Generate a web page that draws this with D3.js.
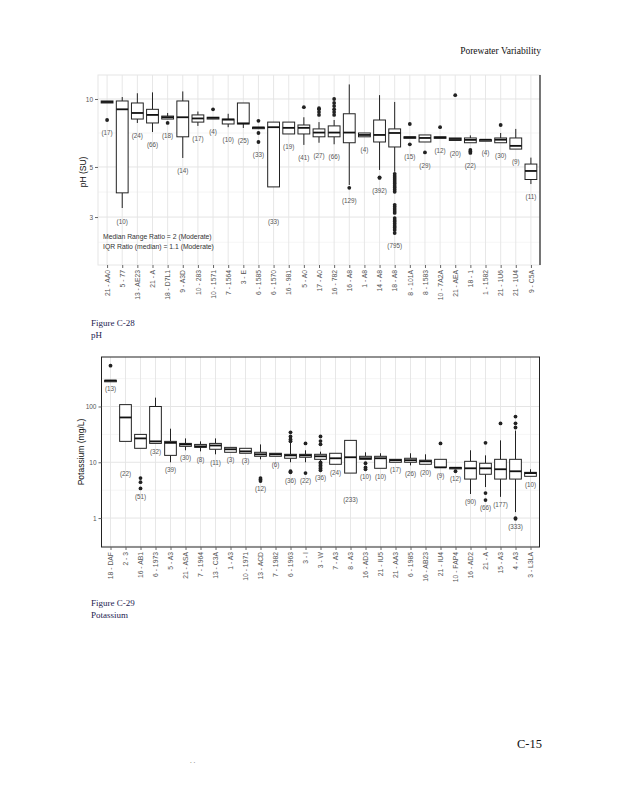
<!DOCTYPE html>
<html><head><meta charset="utf-8">
<script src="https://cdn.jsdelivr.net/npm/d3@7"></script>
<style>body{margin:0;background:#fff}</style>
</head><body>
<svg id="c" width="618" height="800"></svg>
<script>
// ---------- pH (Figure C-28) ----------
const phCategories = ["21 - AA0","5 - 77","13 - AE23","21 - A","18 - D7L1","9 - A3D","10 - 283","10 - 1571","7 - 1564","3 - E","6 - 1585","6 - 1570","16 - 981","5 - A0","17 - A0","16 - 782","16 - A8","1 - A8","14 - A8","18 - A8","8 - 101A","8 - 1583","10 - 7A2A","21 - AEA","18 - 1","1 - 1582","21 - 1U6","21 - 1U4","9 - C5A"];
const phCounts = [17,10,24,66,18,14,17,4,10,25,33,33,19,41,27,66,129,4,392,795,15,29,12,20,22,4,30,9,11];
const phLow  = [9.6,3.29,7.83,7.14,8.15,5.48,7.6,8.15,7.5,7.44,7.45,4.08,7.0,6.26,6.4,6.3,4.16,6.8,4.85,4.76,6.72,6.45,6.7,6.52,6.4,6.6,6.4,6.0,4.2];
const phQ1   = [9.6,3.84,8.15,7.83,8.15,6.8,7.9,8.15,7.75,7.75,7.45,4.08,7.0,7.0,6.8,6.8,6.4,6.8,6.45,6.13,6.72,6.45,6.7,6.55,6.4,6.6,6.4,6.0,4.4];
const phMedian=[9.7,9.0,8.67,8.5,8.3,8.3,8.2,8.25,8.1,7.8,7.47,7.5,7.45,7.45,7.1,7.1,7.1,6.93,6.93,7.07,6.76,6.72,6.75,6.65,6.59,6.6,6.6,6.2,4.8];
const phQ3   = [9.8,9.8,9.6,9.0,8.4,9.8,8.5,8.3,8.15,9.6,7.5,7.9,7.9,7.67,7.37,7.6,8.6,7.07,8.07,7.37,6.8,6.93,6.8,6.72,6.72,6.6,6.72,6.72,5.15];
const phHigh = [9.8,10.2,10.6,10.7,8.67,10.8,8.8,8.3,8.6,9.6,7.5,7.9,7.9,8.3,7.9,8.07,11.6,7.07,10.4,9.7,6.8,6.93,6.8,6.72,6.9,6.6,7.07,7.37,5.5];
const phOutliers = [[8.07],[],[],[],[7.83],[],[],[9.0],[],[],[8.0,7.07,6.45],[],[],[9.2],[8.5,8.75,9.0,9.1],[8.5,8.75,9.0,9.3,9.6,10.0],[4.04],[],[4.47,4.5],
  [4.66,4.56,4.47,4.38,4.29,4.21,4.12,4.04,3.96,3.88,3.40,3.33,3.26,3.19,3.13,2.97,2.91,2.86,2.80,2.74,2.69,2.63,2.55],
  [7.75,6.3],[5.8],[7.5],[10.4],[5.95,5.85,5.77],[],[7.67],[],[]];
const phLabelAt = {1:2.85, 11:2.85};   // count-label positions where lower whiskers are faint
const phTicks = [3,5,10];
const phMinor = [2.32,3.87,7.07];
const phNotes = ["Median Range Ratio = 2 (Moderate)","IQR Ratio (median) = 1.1 (Moderate)"];

// ---------- Potassium (Figure C-29) ----------
const kCategories = ["18 - DAF","2 - 3","16 - AB1","6 - 1973","5 - A3","21 - ASA","7 - 1964","13 - C3A","1 - A3","10 - 1971","13 - ACD","7 - 1982","6 - 1963","3 - I","3 - W","7 - A3","8 - A3","16 - AD3","21 - IU5","21 - AA3","6 - 1985","16 - AB23","21 - IU4","10 - FAP4","16 - AD2","21 - A","15 - A3","4 - A3","3 - L3LA"];
const kCounts = [13,22,51,32,39,30,8,11,3,3,12,6,36,22,36,24,233,10,10,17,26,20,9,12,90,66,177,333,10];
const kLow   = [285,23.7,17.8,21.8,10,16.4,15.7,13.9,15.1,14.5,11.3,12.8,10,10,10.5,9.2,6.4,11.3,7.8,10,8.8,9.2,8.1,7.8,2.7,3.6,2.4,1.28,5.6];
const kQ1    = [285,23.7,17.8,21.8,13.3,19.3,18.5,17.1,15.1,14.5,12.8,12.8,11.8,12.3,11.3,9.2,6.4,11.3,7.8,10,10,9.2,8.1,7.8,5.0,6.1,5.0,5.0,5.6];
const kMedian= [291,63.6,26.8,23.7,22.3,20.9,19.3,20,17.1,15.7,13.9,13.9,13.3,13.3,12.8,11.8,12.3,11.8,11.8,10.9,10.9,10.4,8.1,7.95,7.8,7.8,7.5,6.9,6.4];
const kQ3    = [295,108,31.6,100,23.7,21.8,20.9,21.8,18.5,17.8,15.1,14.5,13.9,13.9,13.9,14.5,24.7,12.8,12.8,11.3,11.8,10.9,11.3,8.1,10.4,9.6,11.3,11.3,6.6];
const kHigh  = [295,108,31.6,144,40,26.8,23.7,26.8,18.5,17.8,20.9,14.5,22.3,16.4,15.5,14.5,24.7,15.1,14.5,11.3,14.5,13.9,11.3,8.1,16.4,13.3,24.7,37,7.5];
const kOutliers = [[540],[],[5.2,4.4,3.4],[],[],[],[],[],[],[],[5.2,4.9,4.6],[],[34.4,29.1,25.7,23.7,6.9,6.6],[21.8,6.4],
  [29,24,21,10,9.4,8.8,8.2,7.7,7.2],[],[],[9.6,8.1,7.5],[],[],[],[],[21.8],[6.9],[],[22.3,2.8,2.1],[49.8],[66,50,42,1.0,0.97],[]];
const kLabelAt = {1:6.1, 16:2.1};
const kTicks = [1,10,100];
const kMinor = [0.316,3.16,31.6,316];

const svg = d3.select("#c");
const serif = "'Liberation Serif','Times New Roman',serif";
const sans = "'Liberation Sans',Arial,sans-serif";

function drawBoxChart(o) {
  const g = svg.append("g");
  const x = d3.scalePoint().domain(o.cats).range([o.left, o.right]).padding(0.6);
  const y = d3.scaleLog().domain(o.domain).range([o.bottom, o.top]);
  const bw = x.step() * 0.78;

  // grid
  g.selectAll(null).data(o.minor).join("line")
    .attr("x1", o.left).attr("x2", o.right).attr("y1", d => y(d)).attr("y2", d => y(d))
    .attr("stroke", "#eeeeee").attr("stroke-width", 0.6);
  g.selectAll(null).data(o.ticks).join("line")
    .attr("x1", o.left).attr("x2", o.right).attr("y1", d => y(d)).attr("y2", d => y(d))
    .attr("stroke", "#e2e2e2").attr("stroke-width", 0.9);
  g.selectAll(null).data(o.cats).join("line")
    .attr("x1", d => x(d)).attr("x2", d => x(d)).attr("y1", o.top).attr("y2", o.bottom)
    .attr("stroke", "#e4e4e4").attr("stroke-width", 0.9);

  // panel border
  g.append("rect").attr("x", o.left).attr("y", o.top).attr("width", o.right - o.left).attr("height", o.bottom - o.top)
    .attr("fill", "none").attr("stroke", o.borderColor).attr("stroke-width", 1);
  if (o.rightDark) {
    g.append("line").attr("x1", o.right).attr("x2", o.right).attr("y1", o.top).attr("y2", o.bottom)
      .attr("stroke", "#222").attr("stroke-width", 1.2);
  }

  // y axis
  const ya = g.append("g").attr("transform", `translate(${o.left},0)`)
    .call(d3.axisLeft(y).tickValues(o.ticks).tickFormat(d3.format("d")).tickSize(3).tickPadding(2));
  ya.select(".domain").remove();
  ya.selectAll("line").attr("stroke", "#666");
  ya.selectAll("text").attr("font-family", sans).attr("font-size", 6.5).attr("fill", "#555");

  // x axis
  const xa = g.append("g").attr("transform", `translate(0,${o.bottom})`)
    .call(d3.axisBottom(x).tickSize(3).tickPadding(2));
  xa.select(".domain").remove();
  xa.selectAll("line").attr("stroke", "#666");
  xa.selectAll("text").attr("font-family", sans).attr("font-size", 6.8).attr("fill", "#555")
    .attr("transform", "rotate(-90)").attr("text-anchor", "end").attr("dy", "0.32em")
    .attr("x", -5).attr("y", 0);

  // y title
  g.append("text").attr("transform", `translate(${o.titleX},${o.titleY}) rotate(-90)`)
    .attr("text-anchor", "middle").attr("font-family", sans).attr("font-size", 8.5).attr("fill", "#111")
    .text(o.yTitle);

  // boxes
  o.cats.forEach((c, i) => {
    const cx = x(c);
    const bg = g.append("g");
    bg.append("line").attr("x1", cx).attr("x2", cx).attr("y1", y(o.q3[i])).attr("y2", y(o.hi[i]))
      .attr("stroke", "#222").attr("stroke-width", 1);
    bg.append("line").attr("x1", cx).attr("x2", cx).attr("y1", y(o.q1[i])).attr("y2", y(o.lo[i]))
      .attr("stroke", "#222").attr("stroke-width", 1);
    const yt = y(o.q3[i]), yb = y(o.q1[i]);
    bg.append("rect").attr("x", cx - bw / 2).attr("y", yt).attr("width", bw).attr("height", Math.max(1.5, yb - yt))
      .attr("fill", "#fff").attr("stroke", "#222").attr("stroke-width", 1);
    bg.append("line").attr("x1", cx - bw / 2).attr("x2", cx + bw / 2).attr("y1", y(o.med[i])).attr("y2", y(o.med[i]))
      .attr("stroke", "#111").attr("stroke-width", 1.8);
    bg.selectAll("circle").data(o.out[i]).join("circle")
      .attr("cx", cx).attr("cy", d => y(d)).attr("r", 1.9).attr("fill", "#222");
    const minV = Math.min(o.lo[i], ...o.out[i]);
    const ly = o.labelAt[i] !== undefined ? y(o.labelAt[i]) : y(minV) + o.labelGap;
    bg.append("text").attr("x", cx).attr("y", ly).attr("dy", "0.35em").attr("text-anchor", "middle")
      .attr("font-family", sans).attr("font-size", 6.3).attr("fill", "#555").text(`(${o.n[i]})`);
  });
  return {x, y, g};
}

// header
svg.append("text").attr("x", 541).attr("y", 54).attr("text-anchor", "end")
  .attr("font-family", serif).attr("font-size", 9.5).attr("fill", "#111").text("Porewater Variability");

const ph = drawBoxChart({
  cats: phCategories, n: phCounts, lo: phLow, q1: phQ1, med: phMedian, q3: phQ3, hi: phHigh, out: phOutliers,
  labelAt: phLabelAt, ticks: phTicks, minor: phMinor,
  left: 98, right: 540, top: 75, bottom: 265, domain: [1.84, 12.77],
  borderColor: "#e6e6e6", rightDark: true, yTitle: "pH (SU)", titleX: 86, titleY: 172, labelGap: 13
});
ph.g.selectAll(null).data(phNotes).join("text")
  .attr("x", 103).attr("y", (d, i) => 239 + i * 10)
  .attr("font-family", sans).attr("font-size", 6.8).attr("fill", "#333").text(d => d);

svg.append("text").attr("x", 91).attr("y", 326).attr("font-family", serif).attr("font-size", 9).attr("fill", "#1c2250").text("Figure C-28");
svg.append("text").attr("x", 91).attr("y", 338).attr("font-family", serif).attr("font-size", 9).attr("fill", "#1c2250").text("pH");

drawBoxChart({
  cats: kCategories, n: kCounts, lo: kLow, q1: kQ1, med: kMedian, q3: kQ3, hi: kHigh, out: kOutliers,
  labelAt: kLabelAt, ticks: kTicks, minor: kMinor,
  left: 101.5, right: 539.5, top: 357, bottom: 547, domain: [0.303, 771],
  borderColor: "#222", rightDark: false, yTitle: "Potassium (mg/L)", titleX: 84, titleY: 452, labelGap: 8
});

svg.append("text").attr("x", 91).attr("y", 606).attr("font-family", serif).attr("font-size", 9).attr("fill", "#1c2250").text("Figure C-29");
svg.append("text").attr("x", 91).attr("y", 618).attr("font-family", serif).attr("font-size", 9).attr("fill", "#1c2250").text("Potassium");

svg.append("text").attr("x", 542).attr("y", 748).attr("text-anchor", "end")
  .attr("font-family", serif).attr("font-size", 12.5).attr("fill", "#111").text("C-15");
svg.append("text").attr("x", 190).attr("y", 763)
  .attr("font-family", serif).attr("font-size", 7).attr("fill", "#666").text(". .");
</script>
</body></html>
